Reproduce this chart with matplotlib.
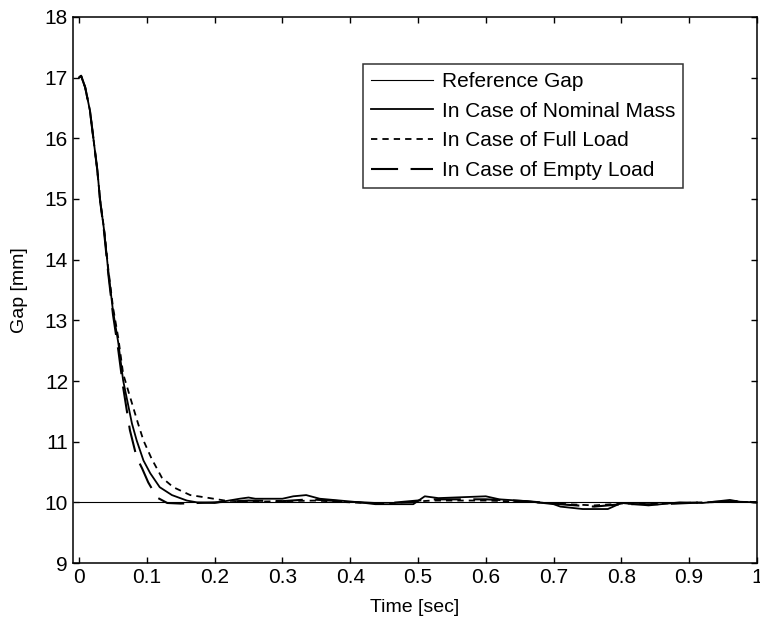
import matplotlib
matplotlib.use("Agg")
import matplotlib.pyplot as plt

# Time [sec] and gap [mm] values
t_ref = [0.0, 1.0]
gap_ref = [10.0, 10.0]

t_nominal = [0, 0.003, 0.009, 0.016, 0.021, 0.027, 0.031, 0.037, 0.043, 0.050, 0.058, 0.065,
             0.078, 0.085, 0.095, 0.105, 0.119, 0.137, 0.159, 0.174, 0.20, 0.237, 0.25, 0.26,
             0.30, 0.316, 0.335, 0.355, 0.395, 0.414, 0.437, 0.493, 0.51, 0.53, 0.60, 0.62,
             0.66, 0.70, 0.71, 0.743, 0.78, 0.80, 0.84, 0.886, 0.92, 0.96, 0.975, 1.0]
gap_nominal = [17.0, 17.03, 16.84, 16.46, 16.01, 15.47, 14.98, 14.48, 13.82, 13.16, 12.62, 12.01,
               11.30, 11.02, 10.69, 10.48, 10.25, 10.12, 10.03, 10.0, 9.99, 10.06, 10.08, 10.06,
               10.06, 10.10, 10.12, 10.06, 10.02, 10.0, 9.97, 9.97, 10.10, 10.07, 10.10, 10.05,
               10.02, 9.97, 9.93, 9.89, 9.89, 9.99, 9.95, 10.0, 9.99, 10.04, 10.01, 10.0]

t_full = [0, 0.003, 0.009, 0.016, 0.021, 0.027, 0.031, 0.037, 0.043, 0.050, 0.058, 0.065,
          0.080, 0.087, 0.095, 0.107, 0.122, 0.139, 0.164, 0.193, 0.215, 0.25, 0.30, 0.35,
          0.40, 0.45, 0.52, 0.60, 0.66, 0.72, 0.76, 0.80, 0.86, 0.92, 0.97, 1.0]
gap_full = [17.0, 17.03, 16.84, 16.46, 16.01, 15.47, 14.98, 14.50, 13.86, 13.22, 12.70, 12.12,
            11.56, 11.30, 11.02, 10.72, 10.41, 10.25, 10.12, 10.07, 10.03, 10.01, 10.02, 10.03,
            10.0, 9.98, 10.03, 10.03, 10.01, 9.97, 9.95, 9.98, 9.98, 10.0, 10.01, 10.0]

t_empty = [0, 0.003, 0.009, 0.016, 0.021, 0.027, 0.031, 0.037, 0.043, 0.050, 0.058, 0.065,
           0.075, 0.085, 0.093, 0.102, 0.115, 0.13, 0.15, 0.20, 0.25, 0.30, 0.34, 0.40,
           0.45, 0.52, 0.60, 0.66, 0.72, 0.76, 0.80, 0.86, 0.92, 0.97, 1.0]
gap_empty = [17.0, 17.03, 16.84, 16.46, 16.01, 15.47, 14.98, 14.45, 13.78, 13.10, 12.50, 11.90,
             11.19, 10.74, 10.56, 10.33, 10.08, 9.99, 9.98, 10.0, 10.03, 10.02, 10.05, 10.01,
             9.98, 10.05, 10.05, 10.02, 9.96, 9.93, 9.97, 9.97, 10.0, 10.02, 10.0]

x_ticks = [0, 0.1, 0.2, 0.3, 0.4, 0.5, 0.6, 0.7, 0.8, 0.9, 1]
x_tick_labels = ["0", "0.1", "0.2", "0.3", "0.4", "0.5", "0.6", "0.7", "0.8", "0.9", "1"]
y_ticks = [9, 10, 11, 12, 13, 14, 15, 16, 17, 18]

plt.rcParams["font.family"] = ["Liberation Sans", "DejaVu Sans"]

fig = plt.figure(figsize=(7.6, 6.27), dpi=100)
ax = fig.add_axes([0.096, 0.102, 0.900, 0.871])

ax.plot(t_ref, gap_ref, color="black", linewidth=0.8, label="Reference Gap")
ax.plot(t_nominal, gap_nominal, color="black", linewidth=1.3, label="In Case of Nominal Mass")
ax.plot(t_full, gap_full, color="black", linewidth=1.3, linestyle=(0, (3.5, 2.8)),
        label="In Case of Full Load")
ax.plot(t_empty, gap_empty, color="black", linewidth=1.5, linestyle=(0, (13, 6)),
        label="In Case of Empty Load")

ax.set_xlim(-0.009, 1.0)
ax.set_ylim(9, 18)
ax.set_xticks(x_ticks)
ax.set_xticklabels(x_tick_labels)
ax.set_yticks(y_ticks)
ax.tick_params(direction="in", length=4, width=1, top=True, right=True, labelsize=15,
               colors="black")
for spine in ax.spines.values():
    spine.set_linewidth(1.1)

ax.set_xlabel("Time [sec]", fontsize=14, labelpad=9)
ax.set_ylabel("Gap [mm]", fontsize=14, labelpad=12)

leg = ax.legend(loc="upper left", bbox_to_anchor=(0.424, 0.914), borderaxespad=0,
                fontsize=15, handlelength=3.0, handletextpad=0.4, labelspacing=0.52,
                borderpad=0.38, fancybox=False, frameon=True)
leg.get_frame().set_edgecolor("black")
leg.get_frame().set_linewidth(1.1)

fig.savefig("out.png", dpi=100)
